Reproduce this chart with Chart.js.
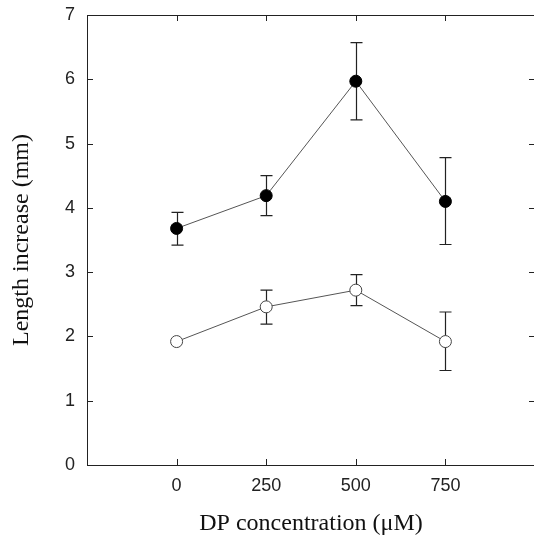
<!DOCTYPE html>
<html>
<head>
<meta charset="utf-8">
<script src="https://cdn.jsdelivr.net/npm/chart.js@4.4.1/dist/chart.umd.min.js"></script>
<style>
  html, body { margin: 0; padding: 0; background: #fff; overflow: hidden; }
  #wrap { width: 536px; height: 538px; }
</style>
</head>
<body>
<div id="wrap"><canvas id="canvas"></canvas></div>
<script>
// doses on x axis
const doses = [0, 250, 500, 750];
const xTickValues = [0, 250, 500, 750];
const yTickValues = [0, 1, 2, 3, 4, 5, 6, 7];

// filled circles
const filledMean = [3.68, 4.19, 5.97, 4.10];
const filledLow  = [3.42, 3.88, 5.37, 3.43];
const filledHigh = [3.93, 4.50, 6.57, 4.78];

// open circles
const openMean = [1.92, 2.46, 2.72, 1.92];
const openLow  = [1.92, 2.19, 2.48, 1.47];
const openHigh = [1.92, 2.72, 2.96, 2.38];

function toPoints(ys) {
    return doses.map((d, i) => ({ x: d, y: ys[i] }));
}

// error bars, drawn under the markers
const errorBars = {
    id: 'errorBars',
    beforeDatasetsDraw(chart) {
        const { ctx, scales: { x, y } } = chart;
        ctx.save();
        ctx.strokeStyle = '#222';
        ctx.lineWidth = 1.2;
        chart.data.datasets.forEach(ds => {
            ds.data.forEach((p, i) => {
                const lo = ds.errLow[i], hi = ds.errHigh[i];
                if (lo === hi) return;
                const px = Math.round(x.getPixelForValue(p.x)) + 0.5;
                const yl = y.getPixelForValue(lo);
                const yh = y.getPixelForValue(hi);
                ctx.beginPath();
                ctx.moveTo(px, yl); ctx.lineTo(px, yh);
                ctx.moveTo(px - 6, yl); ctx.lineTo(px + 6, yl);
                ctx.moveTo(px - 6, yh); ctx.lineTo(px + 6, yh);
                ctx.stroke();
            });
        });
        ctx.restore();
    }
};

// box around the plot with inward ticks on all sides
const frame = {
    id: 'frame',
    afterDraw(chart) {
        const { ctx, chartArea: a, scales: { x, y } } = chart;
        ctx.save();
        ctx.strokeStyle = '#222';
        ctx.lineWidth = 1;
        ctx.strokeRect(a.left + 0.5, a.top + 0.5, a.right - a.left, a.bottom - a.top);
        ctx.beginPath();
        xTickValues.forEach(v => {
            const px = Math.round(x.getPixelForValue(v)) + 0.5;
            ctx.moveTo(px, a.bottom); ctx.lineTo(px, a.bottom - 6);
            ctx.moveTo(px, a.top); ctx.lineTo(px, a.top + 6);
        });
        yTickValues.slice(1, -1).forEach(v => {
            const py = Math.round(y.getPixelForValue(v)) + 0.5;
            ctx.moveTo(a.left, py); ctx.lineTo(a.left + 6, py);
            ctx.moveTo(a.right, py); ctx.lineTo(a.right - 6, py);
        });
        ctx.stroke();
        ctx.restore();
    }
};

const ctx = document.getElementById('canvas').getContext('2d');
new Chart(ctx, {
    type: 'line',
    data: {
        datasets: [{
            data: toPoints(filledMean),
            errLow: filledLow,
            errHigh: filledHigh,
            borderColor: '#555',
            borderWidth: 1,
            pointRadius: 6,
            pointBackgroundColor: '#000',
            pointBorderColor: '#000',
            pointBorderWidth: 1
        }, {
            data: toPoints(openMean),
            errLow: openLow,
            errHigh: openHigh,
            borderColor: '#555',
            borderWidth: 1,
            pointRadius: 6,
            pointBackgroundColor: '#fff',
            pointBorderColor: '#444',
            pointBorderWidth: 1
        }]
    },
    options: {
        responsive: true,
        maintainAspectRatio: false,
        animation: false,
        layout: { autoPadding: false, padding: { top: 15, right: 1, left: 0, bottom: 0 } },
        plugins: { legend: { display: false }, tooltip: { enabled: false } },
        scales: {
            x: {
                type: 'linear',
                min: -250,
                max: 1000,
                afterBuildTicks: s => { s.ticks = xTickValues.map(v => ({ value: v })); },
                afterFit: s => { s.height = 73; },
                grid: { display: false, drawTicks: false },
                border: { display: false },
                ticks: {
                    autoSkip: false,
                    padding: 10,
                    color: '#222',
                    font: { family: 'Liberation Sans', size: 18 }
                },
                title: {
                    display: true,
                    text: 'DP concentration (\u03BCM)',
                    color: '#111',
                    padding: { top: 0, bottom: 0 },
                    font: { family: 'Liberation Serif', size: 24 }
                }
            },
            y: {
                min: 0,
                max: 7,
                afterBuildTicks: s => { s.ticks = yTickValues.map(v => ({ value: v })); },
                afterFit: s => { s.width = 87; s.paddingTop = 0; s.paddingBottom = 0; },
                grid: { display: false, drawTicks: false },
                border: { display: false },
                ticks: {
                    padding: 12,
                    color: '#222',
                    font: { family: 'Liberation Sans', size: 18 }
                },
                title: {
                    display: true,
                    text: 'Length increase (mm)',
                    color: '#111',
                    padding: { top: 7, bottom: 0 },
                    font: { family: 'Liberation Serif', size: 24 }
                }
            }
        }
    },
    plugins: [errorBars, frame]
});
</script>
</body>
</html>
